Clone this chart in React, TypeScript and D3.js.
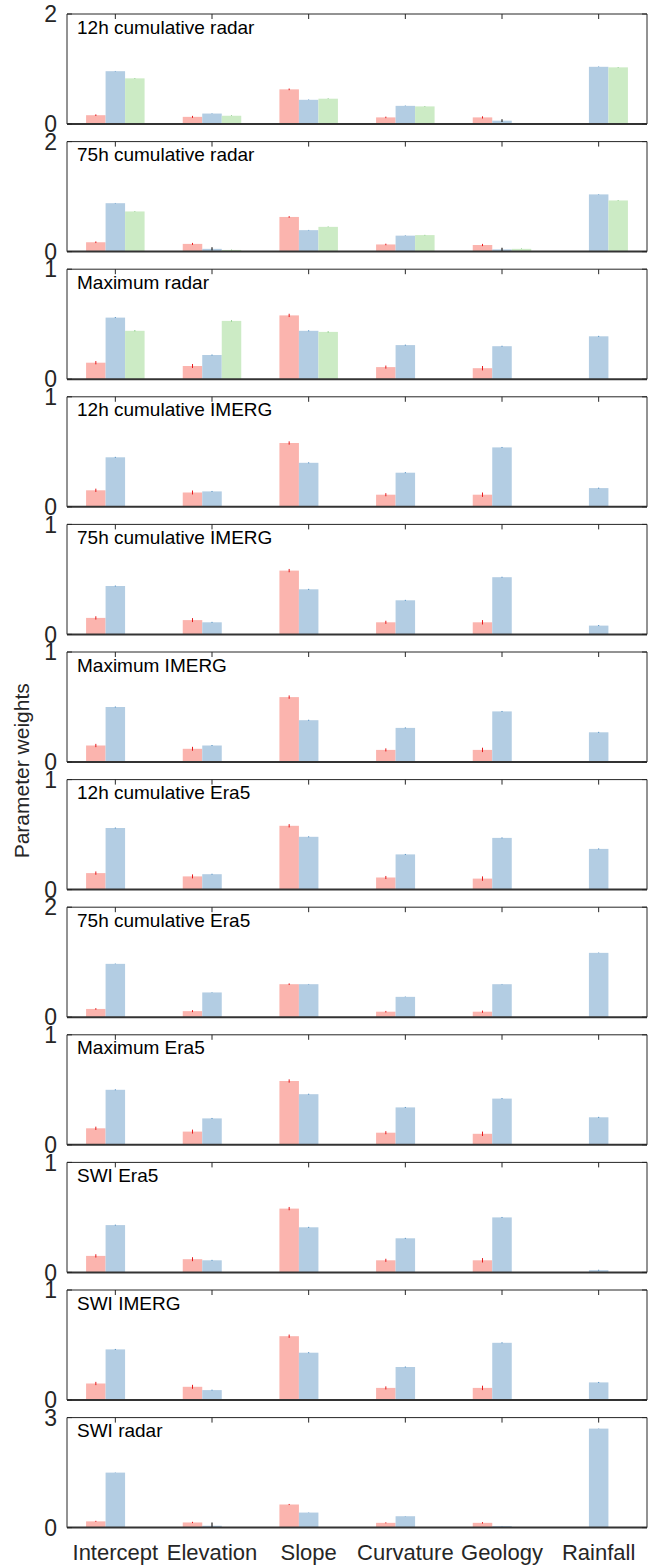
import React from 'react';
import * as d3 from 'd3';

const categories = ['Intercept', 'Elevation', 'Slope', 'Curvature', 'Geology', 'Rainfall'];

const panelTitles = [
  '12h cumulative radar',
  '75h cumulative radar',
  'Maximum radar',
  '12h cumulative IMERG',
  '75h cumulative IMERG',
  'Maximum IMERG',
  '12h cumulative Era5',
  '75h cumulative Era5',
  'Maximum Era5',
  'SWI Era5',
  'SWI IMERG',
  'SWI radar',
];

const yMax = [2, 2, 1, 1, 1, 1, 1, 2, 1, 1, 1, 3];

// per panel, per category (null = no bar)
const redWeights = [
  [0.16, 0.13, 0.63, 0.12, 0.12, null],
  [0.17, 0.14, 0.63, 0.13, 0.12, null],
  [0.15, 0.12, 0.58, 0.11, 0.1, null],
  [0.15, 0.13, 0.58, 0.11, 0.11, null],
  [0.15, 0.13, 0.58, 0.11, 0.11, null],
  [0.15, 0.12, 0.59, 0.11, 0.11, null],
  [0.15, 0.12, 0.58, 0.11, 0.1, null],
  [0.15, 0.11, 0.6, 0.1, 0.1, null],
  [0.15, 0.12, 0.58, 0.11, 0.1, null],
  [0.15, 0.12, 0.58, 0.11, 0.11, null],
  [0.15, 0.12, 0.58, 0.11, 0.11, null],
  [0.17, 0.14, 0.63, 0.13, 0.13, null],
];

const blueWeights = [
  [0.96, 0.19, 0.44, 0.33, 0.06, 1.04],
  [0.88, 0.05, 0.39, 0.29, 0.04, 1.04],
  [0.56, 0.22, 0.44, 0.31, 0.3, 0.39],
  [0.45, 0.14, 0.4, 0.31, 0.54, 0.17],
  [0.44, 0.11, 0.41, 0.31, 0.52, 0.08],
  [0.5, 0.15, 0.38, 0.31, 0.46, 0.27],
  [0.56, 0.14, 0.48, 0.32, 0.47, 0.37],
  [0.97, 0.45, 0.6, 0.37, 0.6, 1.17],
  [0.5, 0.24, 0.46, 0.34, 0.42, 0.25],
  [0.43, 0.11, 0.41, 0.31, 0.5, 0.02],
  [0.46, 0.09, 0.43, 0.3, 0.52, 0.16],
  [1.5, 0.05, 0.41, 0.31, 0.04, 2.7],
];

const greenWeights = [
  [0.83, 0.15, 0.46, 0.32, 0.01, 1.03],
  [0.73, 0.03, 0.45, 0.3, 0.05, 0.93],
  [0.44, 0.53, 0.43, null, null, null],
];

// half-length of error bars, per category
const redErr = [0.015, 0.018, 0.015, 0.014, 0.02, 0];
const blueErr = [0.004, 0.004, 0.004, 0.004, 0.004, 0.004];
const greenErr = [0.004, 0.004, 0.004, 0.004, 0.004, 0.004];
// [panel, category, half-length] for the larger dark error bars
const wideErrors = [
  [0, 4, 0.025],
  [1, 1, 0.03],
  [1, 4, 0.03],
  [11, 1, 0.09],
];

const seriesColors = ['#fbb4ae', '#b3cde3', '#ccebc5'];
const errColors = ['#e41a1c', '#377eb8', '#4daf4a'];

const W = 654;
const H = 1566;
const left = 67;
const right = 647;
const top0 = 14;
const panelH = 110;
const period = 127.6;
const font = '"Liberation Sans", Arial, Helvetica, sans-serif';

const Panel = ({ idx }) => {
  const y0 = top0 + idx * period;
  const x = d3.scaleBand().domain(categories).range([left, right]);
  const sx = d3.scaleBand().domain(['0', '1', '2']).range([-29.25, 29.25]);
  const y = d3.scaleLinear().domain([0, yMax[idx]]).range([y0 + panelH, y0]);
  const series = [redWeights[idx], blueWeights[idx], greenWeights[idx]];
  const errs = [redErr, blueErr, greenErr];

  return (
    <g>
      {series.map((vals, s) =>
        vals
          ? vals.map((v, c) => {
              if (v == null) return null;
              const cx = x(categories[c]) + x.bandwidth() / 2 + sx(String(s)) + sx.bandwidth() / 2;
              const wide = wideErrors.find((e) => e[0] === idx && e[1] === c && s === 1);
              const e = wide ? wide[2] : errs[s][c];
              return (
                <g key={s + '-' + c}>
                  <rect
                    x={cx - sx.bandwidth() / 2}
                    y={y(v)}
                    width={sx.bandwidth()}
                    height={y(0) - y(v)}
                    fill={seriesColors[s]}
                  />
                  {e > 0 && (
                    <line
                      x1={cx}
                      x2={cx}
                      y1={y(Math.max(0, v - e))}
                      y2={y(v + e)}
                      stroke={wide ? '#333' : errColors[s]}
                      strokeWidth={wide ? 1.3 : 1}
                    />
                  )}
                </g>
              );
            })
          : null
      )}
      {/* box */}
      <line x1={left} x2={right} y1={y0} y2={y0} stroke="#262626" strokeWidth={1} />
      <line x1={left} x2={left} y1={y0} y2={y0 + panelH} stroke="#262626" strokeWidth={1} />
      <line x1={right} x2={right} y1={y0} y2={y0 + panelH} stroke="#262626" strokeWidth={1} />
      <line x1={left} x2={right} y1={y(0)} y2={y(0)} stroke="#333" strokeWidth={2} />
      {/* ticks */}
      {categories.map((c) => {
        const cx = x(c) + x.bandwidth() / 2;
        return <line key={c} x1={cx} x2={cx} y1={y0} y2={y0 + 5} stroke="#262626" />;
      })}
      {y.domain().map((t) => (
        <g key={t}>
          <line x1={left} x2={left + 5} y1={y(t)} y2={y(t)} stroke="#262626" />
          <line x1={right} x2={right - 5} y1={y(t)} y2={y(t)} stroke="#262626" />
          <text x={57} y={y(t)} dy="0.36em" textAnchor="end" fontSize={23} fontFamily={font} fill="#262626">
            {t}
          </text>
        </g>
      ))}
      <text x={77} y={y0 + 19.5} fontSize={19} fontFamily={font} fill="#000">
        {panelTitles[idx]}
      </text>
    </g>
  );
};

export default function App() {
  const x = d3.scaleBand().domain(categories).range([left, right]);
  const lastBottom = top0 + 11 * period + panelH;
  return (
    <svg width={W} height={H} style={{ position: 'absolute', left: 0, top: 0, background: '#fff' }}>
      <rect width={W} height={H} fill="#fff" />
      {panelTitles.map((t, i) => (
        <Panel key={t} idx={i} />
      ))}
      {categories.map((c) => (
        <text
          key={c}
          x={x(c) + x.bandwidth() / 2}
          y={lastBottom + 32}
          textAnchor="middle"
          fontSize={22}
          fontFamily={font}
          fill="#262626"
        >
          {c}
        </text>
      ))}
      <text
        transform={`translate(29, ${(top0 + lastBottom) / 2}) rotate(-90)`}
        textAnchor="middle"
        fontSize={21}
        fontFamily={font}
        fill="#262626"
      >
        Parameter weights
      </text>
    </svg>
  );
}
